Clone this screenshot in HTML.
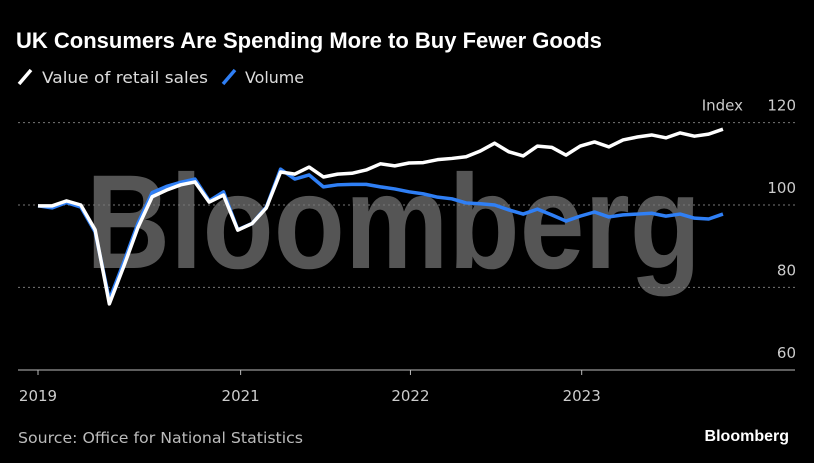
<!DOCTYPE html>
<html><head><meta charset="utf-8"><style>
html,body{margin:0;padding:0;background:#000;width:814px;height:463px;overflow:hidden}
svg{display:block;font-family:"DejaVu Sans","Liberation Sans",sans-serif}
</style></head><body>
<svg id="chart" width="814" height="463" viewBox="0 0 814 463">
<rect width="814" height="463" fill="#000"/>
<text x="16" y="48" fill="#fff" font-size="22" font-weight="bold" font-family="Liberation Sans, sans-serif">UK Consumers Are Spending More to Buy Fewer Goods</text>
<g>
<line x1="19" y1="84" x2="31" y2="70" stroke="#fff" stroke-width="3.5"/>
<text x="42" y="83" fill="#ddd" font-size="16" textLength="166" lengthAdjust="spacingAndGlyphs">Value of retail sales</text></g>
<g>
<line x1="223" y1="84" x2="235" y2="70" stroke="#2f7ff5" stroke-width="3.5"/>
<text x="245" y="83" fill="#ddd" font-size="16" textLength="59" lengthAdjust="spacingAndGlyphs">Volume</text></g>
<text x="86" y="268" fill="#555" font-size="134" font-weight="bold" font-family="Liberation Sans, sans-serif" textLength="615" lengthAdjust="spacingAndGlyphs">Bloomberg</text>
<g id="grid"></g><g id="xaxis"></g><g id="series"></g>
<text x="18" y="443" fill="#bbb" font-size="15" textLength="285" lengthAdjust="spacingAndGlyphs">Source: Office for National Statistics</text>
<text x="789" y="441" fill="#fff" font-size="16" font-weight="bold" font-family="Liberation Sans, sans-serif" text-anchor="end">Bloomberg</text>
</svg>
<script>
const valueSeries=[99.8,99.8,101,100,94,76,85,94.5,102,103.6,104.9,105.6,100.7,102.4,93.9,95.5,99.3,108,107.5,109.2,106.8,107.5,107.7,108.5,110,109.5,110.2,110.3,111,111.3,111.7,113.1,115,112.9,111.9,114.3,114,112.1,114.3,115.3,114.1,115.8,116.5,117,116.3,117.5,116.7,117.2,118.4];
const volumeSeries=[99.8,99.3,100.6,99.5,93.5,77,86,95.5,103,104.5,105.5,106.3,101,103.2,94,95.5,99.5,108.7,106.3,107.3,104.4,104.9,105,105,104.4,103.9,103.2,102.7,101.9,101.5,100.5,100.3,100,98.8,97.8,99,97.6,96.1,97.3,98.3,97.1,97.6,97.8,98,97.3,97.8,96.8,96.6,97.8];
const yTicks=[60,80,100,120];
const xTickLabels=["2019","2021","2022","2023"];
const xTickMonths=[0,14.2,26.1,38.1];
const NS="http://www.w3.org/2000/svg";
const X=i=>38+i*14.27;
const Y=v=>205-(v-100)*4.12;
function mk(tag,attrs,parent){const e=document.createElementNS(NS,tag);for(const k in attrs)e.setAttribute(k,attrs[k]);parent.appendChild(e);return e;}
const grid=document.getElementById('grid');
yTicks.forEach(t=>{
  if(t>60){const l=mk('line',{x1:18,x2:795,y1:Y(t),y2:Y(t),stroke:'#777','stroke-width':1,'stroke-dasharray':'2,3'},grid);
  
  }
  const tx=mk('text',{x:796,y:Y(t)-12,fill:'#ccc','font-size':15,'text-anchor':'end'},grid);
  tx.textContent=t;
  
  
});
const idx=mk('text',{x:743,y:Y(120)-12,fill:'#ccc','font-size':15,'text-anchor':'end'},grid);
idx.textContent='Index';


const xa=document.getElementById('xaxis');
const ax=mk('line',{x1:18,x2:795,y1:370,y2:370,stroke:'#bbb','stroke-width':1},xa);


xTickLabels.forEach((lab,i)=>{
  const x=X(xTickMonths[i]);
  const tk=mk('line',{x1:x,x2:x,y1:370,y2:375,stroke:'#bbb'},xa);
  
  
  const t=mk('text',{x:x,y:401,fill:'#ccc','font-size':15,'text-anchor':'middle'},xa);
  t.textContent=lab;
  
  
});
const sg=document.getElementById('series');
function line(data,color,name){
  const p=mk('polyline',{points:data.map((v,i)=>X(i)+','+Y(v)).join(' '),fill:'none',stroke:color,'stroke-width':3.5,'stroke-linejoin':'round'},sg);
  
  
}
line(volumeSeries,'#2f7ff5','volume-line');
line(valueSeries,'#ffffff','value-line');
</script>
</body></html>
